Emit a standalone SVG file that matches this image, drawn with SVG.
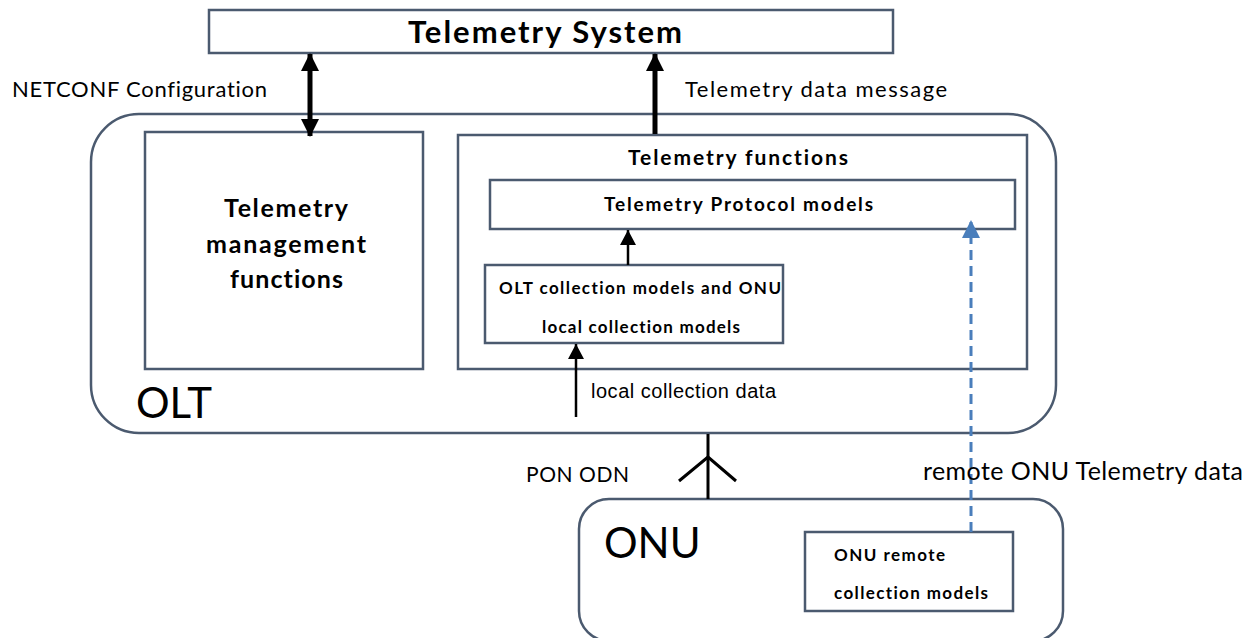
<svg xmlns="http://www.w3.org/2000/svg" width="1247" height="638" viewBox="0 0 1247 638">
  <defs>
    <marker id="ah" markerUnits="userSpaceOnUse" markerWidth="18" markerHeight="18" refX="17" refY="9" orient="auto-start-reverse" viewBox="0 0 18 18">
      <path d="M0,0 L18,9 L0,18 Z" fill="#000"/>
    </marker>
    <marker id="ahs" markerUnits="userSpaceOnUse" markerWidth="15" markerHeight="16" refX="15" refY="8" orient="auto" viewBox="0 0 15 16">
      <path d="M0,0 L15,8 L0,16 Z" fill="#000"/>
    </marker>
  </defs>
  <style>
    .box { fill: #fff; stroke: #4b5a6f; stroke-width: 2.5; }
    .cal { font-family: Lato, "Open Sans", "Liberation Sans", sans-serif; fill: #000; font-variant-ligatures: none; }
    .b { font-weight: bold; }
    .ar { font-family: "Liberation Sans", Arial, sans-serif; fill: #000; }
  </style>
  <rect width="1247" height="638" fill="#fff"/>

  <g id="telemetry-system">
    <rect class="box" x="209" y="10" width="684" height="43"/>
    <text class="cal b" x="408" y="43" font-size="31" textLength="274">Telemetry System</text>
  </g>

  <g id="olt">
    <rect class="box" x="91" y="114" width="965" height="319" rx="48" ry="48"/>
    <text class="cal" x="136" y="418" font-size="42">OLT</text>
  </g>

  <g id="telemetry-management">
    <rect class="box" x="145" y="132" width="278" height="237"/>
    <text class="cal b" x="224" y="217" font-size="25" textLength="124">Telemetry</text>
    <text class="cal b" x="206" y="253" font-size="25" textLength="160">management</text>
    <text class="cal b" x="230" y="288" font-size="25" textLength="113">functions</text>
  </g>

  <g id="telemetry-functions">
    <rect class="box" x="458" y="135" width="569" height="234"/>
    <text class="cal b" x="628" y="165" font-size="21" textLength="220">Telemetry functions</text>
  </g>

  <g id="telemetry-protocol-models">
    <rect class="box" x="490" y="180" width="525" height="49"/>
    <text class="cal b" x="604" y="211" font-size="19" textLength="269">Telemetry Protocol models</text>
  </g>

  <g id="olt-collection-models">
    <rect class="box" x="485" y="265" width="298" height="78"/>
    <text class="cal b" x="499" y="294" font-size="17" textLength="282">OLT collection models and ONU</text>
    <text class="cal b" x="542" y="333" font-size="17" textLength="198">local collection models</text>
  </g>

  <g id="onu">
    <rect class="box" x="579" y="499" width="484" height="142" rx="30" ry="30"/>
    <text class="cal" x="604" y="558" font-size="42">ONU</text>
  </g>

  <g id="onu-remote-collection-models">
    <rect class="box" x="805" y="532" width="208" height="79"/>
    <text class="cal b" x="834" y="561" font-size="17" textLength="111">ONU remote</text>
    <text class="cal b" x="834" y="599" font-size="17" textLength="154">collection models</text>
  </g>

  <g id="connectors">
    <line x1="310" y1="54" x2="310" y2="136" stroke="#000" stroke-width="5" marker-start="url(#ah)" marker-end="url(#ah)"/>
    <line x1="655" y1="134" x2="655" y2="54" stroke="#000" stroke-width="5" marker-end="url(#ah)"/>
    <line x1="628" y1="265" x2="628" y2="230" stroke="#000" stroke-width="2.5" marker-end="url(#ahs)"/>
    <line x1="576" y1="417" x2="576" y2="344" stroke="#000" stroke-width="2.5" marker-end="url(#ahs)"/>
    <line x1="971" y1="532" x2="971" y2="222" stroke="#4a7ebb" stroke-width="3" stroke-dasharray="10,6"/>
    <path d="M962,238 L971,220 L980,238 Z" fill="#4a7ebb"/>
    <line x1="708" y1="434" x2="708" y2="499" stroke="#000" stroke-width="3"/>
    <path d="M679,481 L708,457 L736,481" fill="none" stroke="#000" stroke-width="3"/>
  </g>

  <g id="labels">
    <text class="cal" x="12" y="97" font-size="22" textLength="255">NETCONF Configuration</text>
    <text class="cal" x="685" y="97" font-size="22" textLength="262">Telemetry data message</text>
    <text class="ar" x="591" y="398" font-size="20" textLength="185">local collection data</text>
    <text class="cal" x="526" y="482" font-size="21" textLength="103">PON ODN</text>
    <text class="cal" x="923" y="480" font-size="25" textLength="320">remote ONU Telemetry data</text>
  </g>
</svg>
